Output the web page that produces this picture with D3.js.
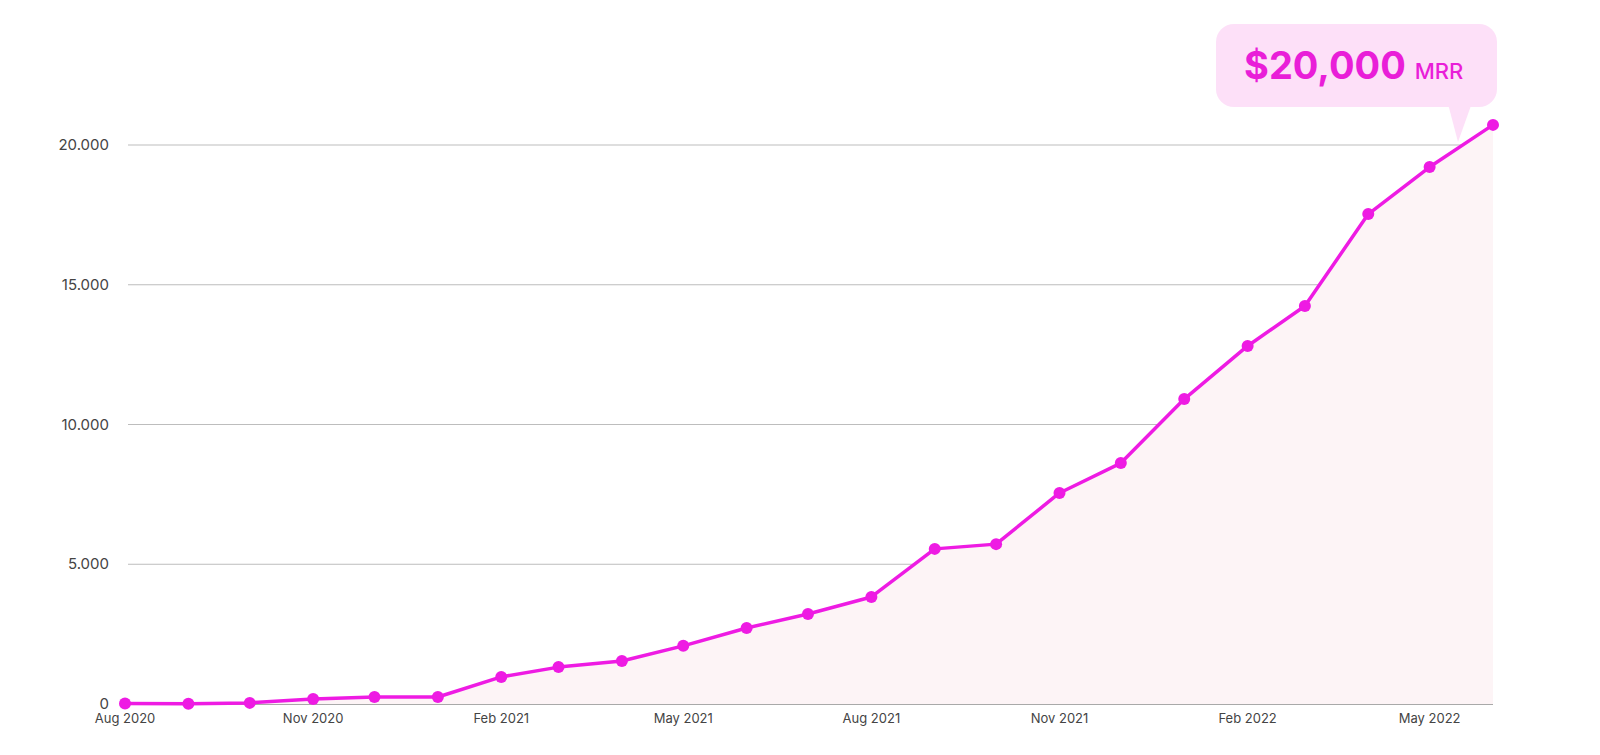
<!DOCTYPE html>
<html>
<head>
<meta charset="utf-8">
<script src="https://cdn.jsdelivr.net/npm/d3@7"></script>
<style>
  body { margin: 0; background: #fff; }
  svg { font-family: Inter, "Open Sans", sans-serif; }
</style>
</head>
<body>
<svg id="chart" width="1600" height="755"></svg>
<script>
// Monthly MRR, Aug 2020 - Jun 2022
const months = ["2020-08","2020-09","2020-10","2020-11","2020-12","2021-01","2021-02","2021-03",
  "2021-04","2021-05","2021-06","2021-07","2021-08","2021-09","2021-10","2021-11","2021-12",
  "2022-01","2022-02","2022-03","2022-04","2022-05","2022-06"];
const mrr = [20, 10, 40, 180, 250, 250, 970, 1320, 1540, 2080, 2720, 3220, 3830, 5550, 5720,
  7550, 8620, 10910, 12810, 14240, 17530, 19210, 20720];
const yTicks = [0, 5000, 10000, 15000, 20000];
const xTicks = ["2020-08","2020-11","2021-02","2021-05","2021-08","2021-11","2022-02","2022-05"];

const parse = d3.timeParse("%Y-%m");
const data = months.map((m, i) => ({ date: parse(m), value: mrr[i] }));

const svg = d3.select("#chart");
const plotLeft = 125, plotRight = 1493, plotTop = 145, plotBottom = 704;

const x = d3.scaleTime()
  .domain([parse("2020-08"), parse("2022-06")])
  .range([plotLeft, plotRight]);
const y = d3.scaleLinear()
  .domain([0, 20000])
  .range([plotBottom, plotTop]);

const fmt = d => d3.format(",")(d).replace(/,/g, ".");

// grid + y labels
const grid = svg.append("g");
grid.selectAll("line").data(yTicks).enter().append("line")
  .attr("x1", 128).attr("x2", plotRight)
  .attr("y1", d => y(d)).attr("y2", d => y(d))
  .attr("stroke", d => d === 0 ? "#555" : "#bdbdbd")
  .attr("stroke-width", 1);
grid.selectAll("text").data(yTicks).enter().append("text")
  .attr("x", 109).attr("y", d => y(d) + 5)
  .attr("text-anchor", "end")
  .attr("font-size", 15).attr("fill", "#444")
  .text(fmt);

// x labels
svg.append("g").selectAll("text").data(xTicks).enter().append("text")
  .attr("x", d => x(parse(d))).attr("y", 723)
  .attr("text-anchor", "middle")
  .attr("font-size", 13).attr("fill", "#444")
  .text(d => d3.timeFormat("%b %Y")(parse(d)));

// area
svg.append("path").datum(data)
  .attr("fill", "#fdf4f6")
  .attr("d", d3.area().x(d => x(d.date)).y0(plotBottom).y1(d => y(d.value)));

// line
svg.append("path").datum(data)
  .attr("fill", "none")
  .attr("stroke", "#ee1be3")
  .attr("stroke-width", 3.5)
  .attr("stroke-linejoin", "round")
  .attr("d", d3.line().x(d => x(d.date)).y(d => y(d.value)));

svg.append("g").selectAll("circle").data(data).enter().append("circle")
  .attr("cx", d => x(d.date)).attr("cy", d => y(d.value))
  .attr("r", 6).attr("fill", "#ee1be3");

// callout
const co = svg.append("g");
co.append("rect")
  .attr("x", 1216).attr("y", 24).attr("width", 281).attr("height", 83)
  .attr("rx", 18).attr("fill", "#fde0f8");
co.append("path")
  .attr("d", "M1473,100 L1458,142 L1447,100 Z")
  .attr("fill", "#fde0f8");
const t = co.append("text").attr("x", 1244).attr("y", 79).attr("fill", "#e91ed8");
t.append("tspan").attr("font-size", 38).attr("font-weight", 700).text("$20,000");
t.append("tspan").attr("font-size", 22).attr("font-weight", 500).attr("dx", 9).text("MRR");
</script>
</body>
</html>
